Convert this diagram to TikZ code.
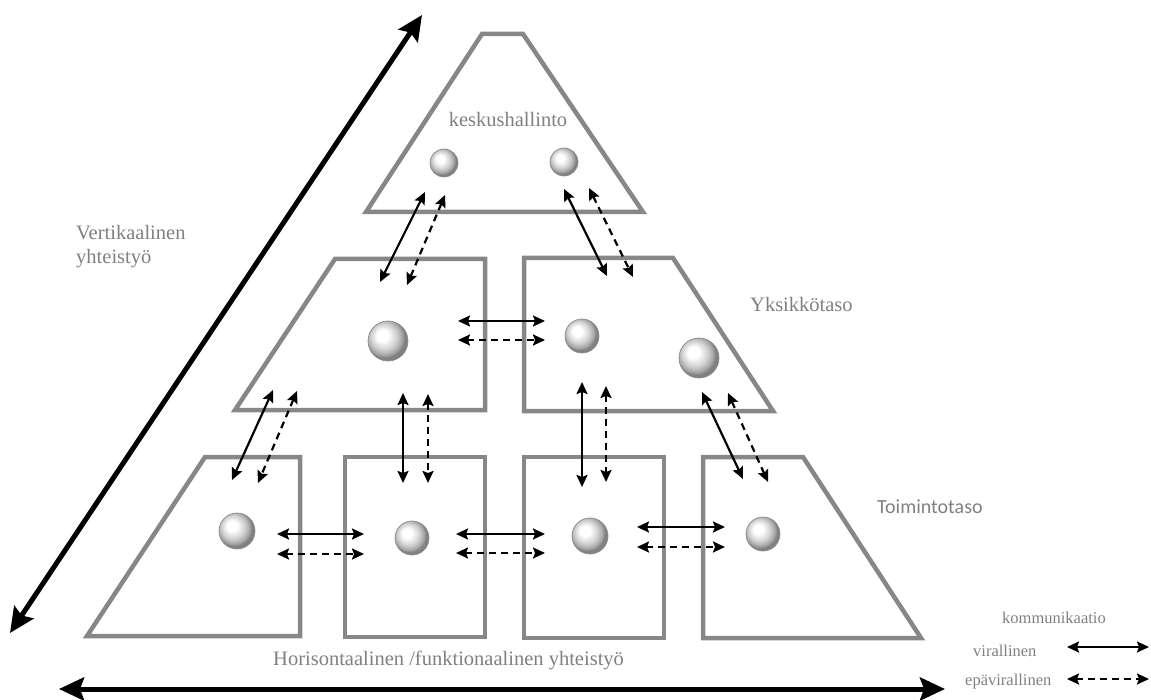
\documentclass[tikz,border=0pt]{standalone}
\usepackage{fontspec}
\setmainfont{Liberation Serif}
\newfontfamily\sansf{Carlito}
\usetikzlibrary{arrows.meta}
\definecolor{shapegray}{RGB}{135,135,135}
\definecolor{txtgray}{RGB}{128,128,128}
\pgfdeclareradialshading{lightball}{\pgfpoint{-8bp}{8bp}}{%
  color(0bp)=(white); color(7bp)=(white); color(16bp)=(black!18);
  color(22bp)=(black!35); color(25bp)=(black!50); color(50bp)=(black!50)}
\tikzset{
  levelshape/.style={draw=shapegray, line width=4.5pt, line join=miter},
  ballnode/.style={circle, inner sep=0pt, shading=lightball, draw=black!45, line width=0.7pt},
  solidarr/.style={{Stealth[length=12pt,width=11pt,inset=2pt]}-{Stealth[length=12pt,width=11pt,inset=2pt]}, line width=2.2pt},
  dasharr/.style={solidarr, dash pattern=on 7pt off 5pt},
  bigarr/.style={{Stealth[length=25pt,width=23pt,inset=4pt]}-{Stealth[length=25pt,width=23pt,inset=4pt]}, line width=5pt},
  lbl/.style={text=txtgray, inner sep=0pt, font=\fontsize{20.5}{24}\selectfont},
  leglbl/.style={text=txtgray, inner sep=0pt, font=\fontsize{16.5}{20}\selectfont},
}
\begin{document}
\begin{tikzpicture}[x=1pt,y=-1pt]
\useasboundingbox (0,0) rectangle (1151,700);

% level shapes
\draw[levelshape] (482,34) -- (523,34) -- (643,212) -- (366,212) -- cycle;
\draw[levelshape] (335,259) -- (485,259) -- (485,410) -- (235,410) -- cycle;
\draw[levelshape] (524,258) -- (673,258) -- (773,411) -- (524,411) -- cycle;
\draw[levelshape] (205,457) -- (300,457) -- (300,636) -- (87,636) -- cycle;
\draw[levelshape] (345,457) -- (485,457) -- (485,637) -- (345,637) -- cycle;
\draw[levelshape] (524,457) -- (664,457) -- (664,638) -- (524,638) -- cycle;
\draw[levelshape] (703,457) -- (803,457) -- (921,638) -- (703,638) -- cycle;

% spheres
\node[ballnode, minimum size=28pt] (t1) at (444,163) {};
\node[ballnode, minimum size=28pt] (t2) at (564,162) {};
\node[ballnode, minimum size=40pt] (m1) at (388,341) {};
\node[ballnode, minimum size=34pt] (m2) at (582,336) {};
\node[ballnode, minimum size=40pt] (m3) at (699,358) {};
\node[ballnode, minimum size=36pt] (b1) at (237,531) {};
\node[ballnode, minimum size=34pt] (b2) at (412,538) {};
\node[ballnode, minimum size=36pt] (b3) at (590,536) {};
\node[ballnode, minimum size=34pt] (b4) at (763,534) {};

% arrow end points
\coordinate (v1sa) at (425,192); \coordinate (v1sb) at (380,282);
\coordinate (v1da) at (445,195); \coordinate (v1db) at (407,285);
\coordinate (v2sa) at (564,189); \coordinate (v2sb) at (607,276);
\coordinate (v2da) at (589,188); \coordinate (v2db) at (633,277);
\coordinate (h1sa) at (458,321); \coordinate (h1sb) at (545,321);
\coordinate (h1da) at (458,340); \coordinate (h1db) at (545,340);
\coordinate (v3sa) at (273,390); \coordinate (v3sb) at (232,480);
\coordinate (v3da) at (297,391); \coordinate (v3db) at (258,483);
\coordinate (v4sa) at (403,393); \coordinate (v4sb) at (403,483);
\coordinate (v4da) at (428,394); \coordinate (v4db) at (428,483);
\coordinate (v5sa) at (582,382); \coordinate (v5sb) at (582,487);
\coordinate (v5da) at (606,386); \coordinate (v5db) at (606,482);
\coordinate (v6sa) at (702,392); \coordinate (v6sb) at (743,479);
\coordinate (v6da) at (728,393); \coordinate (v6db) at (768,482);
\coordinate (h2sa) at (277,534); \coordinate (h2sb) at (364,534);
\coordinate (h2da) at (277,554); \coordinate (h2db) at (364,554);
\coordinate (h3sa) at (456,534); \coordinate (h3sb) at (545,534);
\coordinate (h3da) at (456,553); \coordinate (h3db) at (545,553);
\coordinate (h4sa) at (637,527); \coordinate (h4sb) at (725,527);
\coordinate (h4da) at (637,547); \coordinate (h4db) at (725,547);

\draw[solidarr] (v1sa) -- (v1sb); \draw[dasharr] (v1da) -- (v1db);
\draw[solidarr] (v2sa) -- (v2sb); \draw[dasharr] (v2da) -- (v2db);
\draw[solidarr] (h1sa) -- (h1sb); \draw[dasharr] (h1da) -- (h1db);
\draw[solidarr] (v3sa) -- (v3sb); \draw[dasharr] (v3da) -- (v3db);
\draw[solidarr] (v4sa) -- (v4sb); \draw[dasharr] (v4da) -- (v4db);
\draw[solidarr] (v5sa) -- (v5sb); \draw[dasharr] (v5da) -- (v5db);
\draw[solidarr] (v6sa) -- (v6sb); \draw[dasharr] (v6da) -- (v6db);
\draw[solidarr] (h2sa) -- (h2sb); \draw[dasharr] (h2da) -- (h2db);
\draw[solidarr] (h3sa) -- (h3sb); \draw[dasharr] (h3da) -- (h3db);
\draw[solidarr] (h4sa) -- (h4sb); \draw[dasharr] (h4da) -- (h4db);

% big axes
\coordinate (vlo) at (10,633); \coordinate (vhi) at (422,15);
\coordinate (hlo) at (59,689); \coordinate (hhi) at (945,689);
\draw[bigarr] (vlo) -- (vhi);
\draw[bigarr] (hlo) -- (hhi);

% labels
\node[lbl, anchor=base] (lk) at (508,127) {keskushallinto};
\node[lbl, anchor=north west, align=left] (lv) at (76,225) {Vertikaalinen\\yhteistyö};
\node[lbl, anchor=base west] (ly) at (750,312) {Yksikkötaso};
\node[lbl, anchor=base west, font=\sansf\fontsize{20}{24}\selectfont] (lt) at (877,513) {Toimintotaso};
\node[lbl, anchor=base west] (lh) at (273,665) {Horisontaalinen /funktionaalinen yhteistyö};

% legend
\node[leglbl, anchor=base west] (lkom) at (1002,623) {kommunikaatio};
\node[leglbl, anchor=base west] (lvir) at (973,656) {virallinen};
\node[leglbl, anchor=base west] (lepa) at (965,685) {epävirallinen};
\coordinate (ls1) at (1067,647); \coordinate (ls2) at (1149,647);
\coordinate (ld1) at (1067,679); \coordinate (ld2) at (1149,679);
\draw[solidarr] (ls1) -- (ls2);
\draw[dasharr] (ld1) -- (ld2);
\end{tikzpicture}
\end{document}
